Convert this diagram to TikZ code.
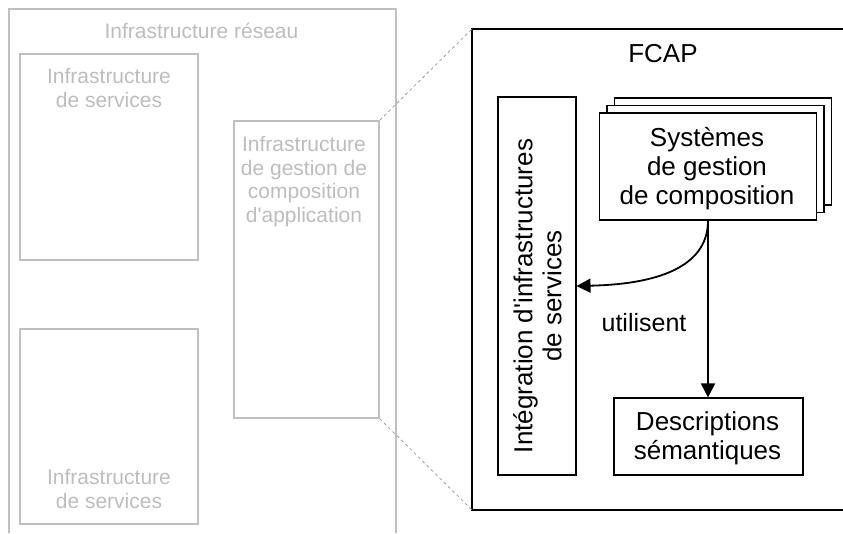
\documentclass[tikz,border=0pt]{standalone}
\usepackage{fontspec}
\setmainfont{Liberation Sans}
\usetikzlibrary{arrows.meta}
\definecolor{lgray}{HTML}{C0C0C0}
\definecolor{tgray}{HTML}{BDBDBD}
\definecolor{dgray}{HTML}{A0A0A0}
\tikzset{
  graybox/.style={draw=lgray, line width=1.6pt, minimum width=#1, inner sep=0pt},
  graytxt/.style={text=tgray, font=\fontsize{21}{23.7}\selectfont, align=center, inner sep=0pt},
  blackbox/.style={draw=black, line width=1.1pt, fill=white, inner sep=0pt},
  blacktxt/.style={text=black, font=\fontsize{26}{29}\selectfont, align=center, inner sep=0pt},
  zoomline/.style={draw=dgray, line width=0.8pt, dash pattern=on 3pt off 3pt},
  arr/.style={line width=1.8pt, -{Triangle[length=14pt,width=14pt]}}
}
\begin{document}
\begin{tikzpicture}[x=1pt,y=-1pt]
\useasboundingbox (0,0) rectangle (843,533);
% outer network infrastructure (cut at bottom)
\coordinate (ol) at (9,533);
\coordinate (otl) at (9,9);
\coordinate (otr) at (396,9);
\coordinate (or) at (396,533);
\draw[lgray, line width=1.6pt] (ol) -- (otl) -- (otr) -- (or);
\node[graytxt, anchor=base] (reseau) at (201.5,38.5) {Infrastructure réseau};
% gray boxes
\node[graybox=178pt, minimum height=206pt] (svc1) at (109,157) {};
\node[graybox=178pt, minimum height=195pt] (svc2) at (109,426.5) {};
\node[graybox=145pt, minimum height=297pt] (mid) at (306.5,269.5) {};
\node[graytxt] (svc1t) at (109,91) {\strut Infrastructure\\de services\strut};
\node[graytxt] (svc2t) at (109,491.7) {\strut Infrastructure\\de services\strut};
\node[graytxt] (midt) at (304,182.4) {\strut Infrastructure\\de gestion de\\composition\\d\textquotesingle application\strut};
% FCAP frame (open to the right)
\coordinate (ftr) at (843,29);
\coordinate (ftl) at (472,29);
\coordinate (fbl) at (472,510);
\coordinate (fbr) at (843,510);
\draw[black, line width=2pt] (ftr) -- (ftl) -- (fbl) -- (fbr);
\node[blacktxt, anchor=base] (fcap) at (663,62.5) {FCAP};
% zoom lines
\draw[zoomline] (mid.north east) -- (ftl);
\draw[zoomline] (mid.south east) -- (fbl);
% integration box
\node[blackbox, minimum width=78pt, minimum height=378pt] (integ) at (537,286) {};
\node[blacktxt, rotate=90] (integt) at (541,296) {\strut Intégration d\textquotesingle infrastructures\\de services\strut};
% stacked composition systems
\node[blackbox, minimum width=217pt, minimum height=107pt] (back) at (723,151.5) {};
\node[blackbox, minimum width=217pt, minimum height=107pt] (midst) at (715.5,159) {};
\node[blackbox, minimum width=217pt, minimum height=107pt] (front) at (708,166.5) {};
\node[blacktxt] (frontt) at (707,169.6) {\strut Systèmes\\de gestion\\de composition\strut};
% semantic descriptions
\node[blackbox, minimum width=189pt, minimum height=77pt] (descr) at (708.5,436.5) {};
\node[blacktxt] (descrt) at (707.5,439.2) {\strut Descriptions\\sémantiques\strut};
% arrows
\draw[arr] (front.south) -- (front.south |- descr.north);
\draw[arr] (front.south) .. controls +(0,42) and +(90,-2) .. (integ.east);
\node[blacktxt, anchor=base, font=\fontsize{25}{29}\selectfont] (util) at (644,331) {utilisent};
\end{tikzpicture}
\end{document}
